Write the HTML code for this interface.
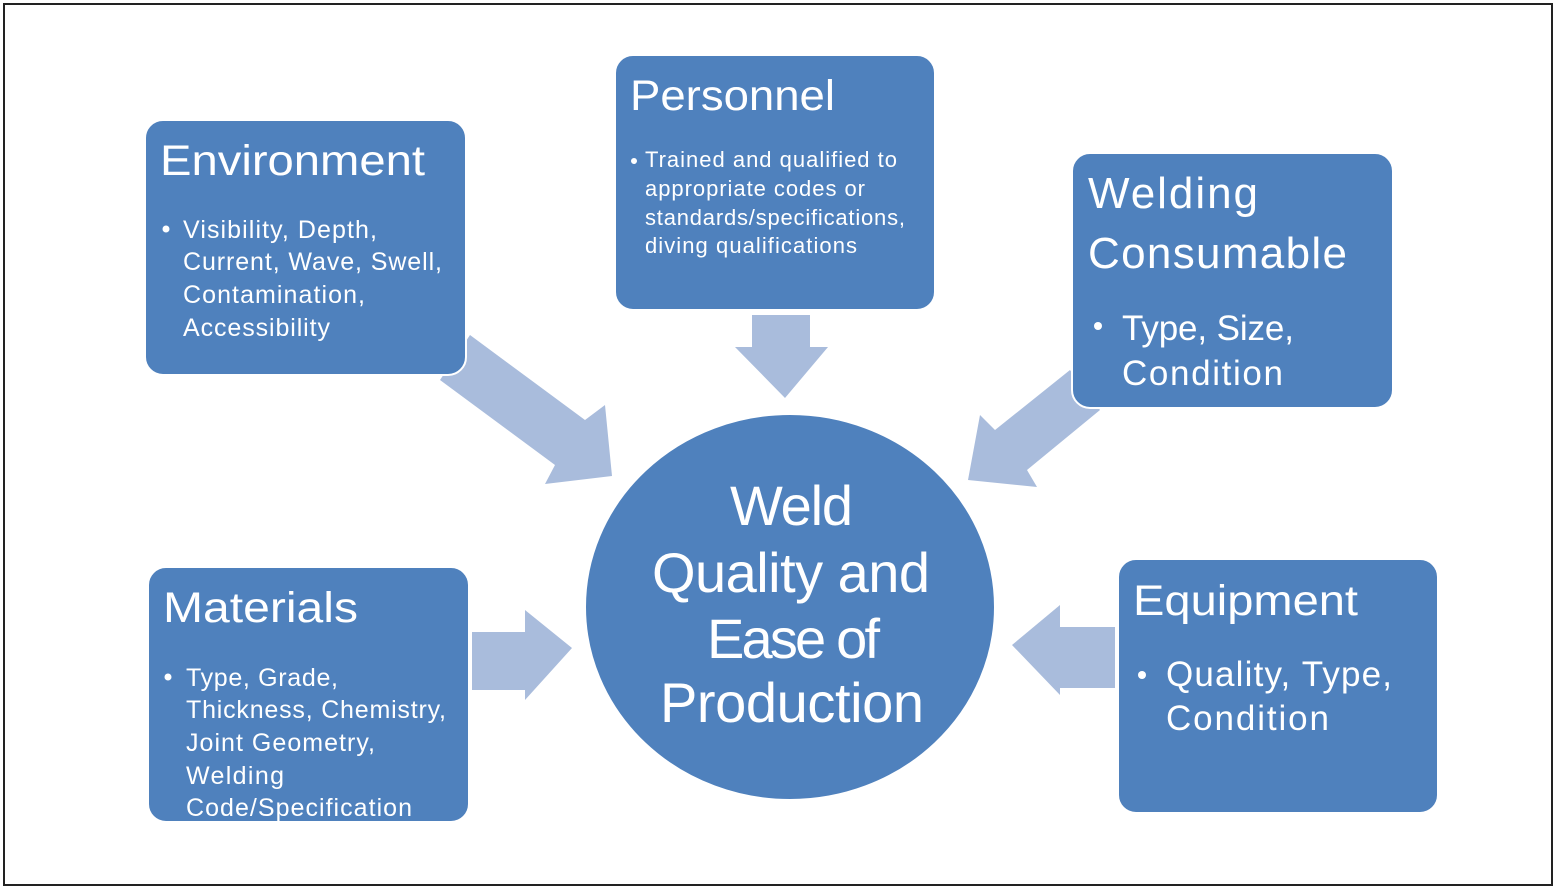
<!DOCTYPE html>
<html><head><meta charset="utf-8"><style>
html,body{margin:0;padding:0;background:#fff;}
svg{display:block;}
text{font-family:"Liberation Sans",sans-serif;fill:#fff;}
</style></head><body>
<svg width="1558" height="893" viewBox="0 0 1558 893" xmlns="http://www.w3.org/2000/svg">
<rect x="4" y="4" width="1548" height="881" fill="#fff" stroke="#222" stroke-width="2"/>
<g fill="#a9bcdc">
<polygon points="470,335 440,380 555,465 545,484 612,476 605,405 585,420"/>
<polygon points="752,315 810,315 810,347 828,347 785,398 735,347 752,347"/>
<polygon points="1070,370 1100,410 1027,470 1037,487 968,480 980,415 995,430"/>
<polygon points="472,632 525,632 525,610 572,648 525,700 525,690 472,690"/>
<polygon points="1115,627 1060,627 1060,605 1012,645 1060,695 1060,688 1115,688"/>
</g>
<g fill="#4f81bd" stroke="#fff" stroke-width="2">
<rect x="145" y="120" width="321" height="255" rx="18"/>
<rect x="615" y="55" width="320" height="255" rx="18"/>
<rect x="1072" y="153" width="321" height="255" rx="18"/>
<rect x="148" y="567" width="321" height="255" rx="18"/>
<rect x="1118" y="559" width="320" height="254" rx="18"/>
<ellipse cx="790" cy="607" rx="205" ry="193"/>
</g>
<g fill="#fff">
<circle cx="166" cy="229" r="3.5"/><circle cx="634" cy="161" r="3"/>
<circle cx="1098" cy="326" r="4"/><circle cx="168" cy="677" r="3.5"/>
<circle cx="1142" cy="675" r="4"/>
</g>
<text x="160" y="175" font-size="43" textLength="265" lengthAdjust="spacingAndGlyphs">Environment</text>
<g font-size="25" lengthAdjust="spacingAndGlyphs">
<text x="183" y="238" textLength="194">Visibility, Depth,</text>
<text x="183" y="270" textLength="259">Current, Wave, Swell,</text>
<text x="183" y="303" textLength="182">Contamination,</text>
<text x="183" y="336" textLength="147">Accessibility</text>
</g>
<text x="630" y="110" font-size="43" textLength="205" lengthAdjust="spacingAndGlyphs">Personnel</text>
<g font-size="22" lengthAdjust="spacingAndGlyphs">
<text x="645" y="167" textLength="252">Trained and qualified to</text>
<text x="645" y="196" textLength="220">appropriate codes or</text>
<text x="645" y="225" textLength="260">standards/specifications,</text>
<text x="645" y="253" textLength="212">diving qualifications</text>
</g>
<g font-size="44" lengthAdjust="spacingAndGlyphs">
<text x="1088" y="208" textLength="170">Welding</text>
<text x="1088" y="268" textLength="259">Consumable</text>
</g>
<g font-size="35" lengthAdjust="spacingAndGlyphs">
<text x="1122" y="340" textLength="172">Type, Size,</text>
<text x="1122" y="385" textLength="161">Condition</text>
</g>
<text x="163" y="622" font-size="43" textLength="195" lengthAdjust="spacingAndGlyphs">Materials</text>
<g font-size="25" lengthAdjust="spacingAndGlyphs">
<text x="186" y="686" textLength="152">Type, Grade,</text>
<text x="186" y="718" textLength="260">Thickness, Chemistry,</text>
<text x="186" y="751" textLength="189">Joint Geometry,</text>
<text x="186" y="784" textLength="98">Welding</text>
<text x="186" y="816" textLength="226">Code/Specification</text>
</g>
<text x="1133" y="615" font-size="43" textLength="225" lengthAdjust="spacingAndGlyphs">Equipment</text>
<g font-size="35" lengthAdjust="spacingAndGlyphs">
<text x="1166" y="686" textLength="226">Quality, Type,</text>
<text x="1166" y="730" textLength="163">Condition</text>
</g>
<g font-size="56" lengthAdjust="spacingAndGlyphs">
<text x="730" y="525" textLength="123">Weld</text>
<text x="652" y="592" textLength="278">Quality and</text>
<text x="707" y="658" textLength="173">Ease of</text>
<text x="660" y="722" textLength="264">Production</text>
</g>
</svg>
</body></html>
